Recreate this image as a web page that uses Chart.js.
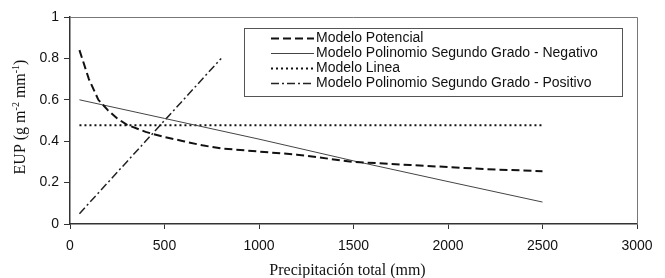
<!DOCTYPE html>
<html><head><meta charset="utf-8">
<script src="https://cdn.jsdelivr.net/npm/chart.js@4/dist/chart.umd.min.js"></script>
<style>html,body{margin:0;padding:0;background:#fff}#c{display:block}</style>
</head><body>
<canvas id="c" width="665" height="278"></canvas>
<script>
const seriesNames = ["Modelo Potencial","Modelo Polinomio Segundo Grado - Negativo","Modelo Linea","Modelo Polinomio Segundo Grado - Positivo"];
const potencialX = [50,100,150,200,250,300,400,500,600,700,800,1000,1200,1500,1800,2000,2200,2500];
const potencialY = [0.84,0.70,0.60,0.55,0.51,0.48,0.445,0.42,0.40,0.38,0.365,0.35,0.335,0.30,0.285,0.275,0.265,0.255];
const negativoX = [50,500,1000,1500,2000,2500];
const negativoY = [0.60,0.51,0.41,0.305,0.205,0.106];
const lineaX = [50,2500];
const lineaY = [0.477,0.477];
const positivoX = [50,300,550,800];
const positivoY = [0.05,0.30,0.55,0.80];
const xTicks = [0,500,1000,1500,2000,2500,3000];
const yTicks = [0,0.2,0.4,0.6,0.8,1];
const xTitle = "Precipitación total (mm)";
const yTitleParts = [["EUP (g m",false],["-2",true],[" mm",false],["-1",true],[")",false]];

const pts = (xs,ys)=>xs.map((x,i)=>({x,y:ys[i]}));
const styles = [
  {borderColor:'#111',borderWidth:2,borderDash:[8,4]},
  {borderColor:'#444',borderWidth:1,borderDash:[]},
  {borderColor:'#111',borderWidth:2,borderDash:[2,3]},
  {borderColor:'#222',borderWidth:1.5,borderDash:[8,3,2,3]}
];
const dataArr = [pts(potencialX,potencialY),pts(negativoX,negativoY),pts(lineaX,lineaY),pts(positivoX,positivoY)];
const serif = '"Liberation Serif","Times New Roman",serif';

const framePlugin = {
  id:'frame',
  afterDraw(chart){
    const {ctx,chartArea:a} = chart;
    ctx.save();
    ctx.strokeStyle='#777';ctx.lineWidth=1;
    ctx.beginPath();
    ctx.moveTo(a.left,a.top+0.5);ctx.lineTo(a.right+0.5,a.top+0.5);ctx.lineTo(a.right+0.5,a.bottom);
    ctx.stroke();
    // x title
    ctx.fillStyle='#111';
    ctx.font='16px '+serif;ctx.textAlign='center';ctx.textBaseline='alphabetic';
    ctx.fillText(xTitle,(a.left+a.right)/2-6,275);
    // y title with superscripts
    ctx.save();
    ctx.translate(25,117);ctx.rotate(-Math.PI/2);
    const big='16px '+serif, small='10px '+serif;
    let total=0;
    yTitleParts.forEach(([t,s])=>{ctx.font=s?small:big;total+=ctx.measureText(t).width;});
    let x=-total/2;ctx.textAlign='left';
    yTitleParts.forEach(([t,s])=>{ctx.font=s?small:big;ctx.fillText(t,x,s?-6:0);x+=ctx.measureText(t).width;});
    ctx.restore();
    // legend
    const bx=244.5,by=28.5,bw=378,bh=68;
    ctx.fillStyle='#fff';ctx.fillRect(bx,by,bw,bh);
    ctx.strokeStyle='#555';ctx.lineWidth=1;ctx.strokeRect(bx,by,bw,bh);
    ctx.font='14px "Liberation Sans", Arial, sans-serif';
    ctx.textBaseline='middle';ctx.textAlign='left';
    const rows=[38,53,68,83];
    chart.data.datasets.forEach((ds,i)=>{
      const y=rows[i]+0.5;
      ctx.strokeStyle=ds.borderColor;ctx.lineWidth=ds.borderWidth;ctx.setLineDash(ds.borderDash);
      ctx.beginPath();ctx.moveTo(271,y);ctx.lineTo(314,y);ctx.stroke();
      ctx.setLineDash([]);
      ctx.fillStyle='#111';ctx.fillText(ds.label,316,rows[i]);
    });
    ctx.restore();
  }
};

new Chart(document.getElementById('c'),{
  type:'line',
  data:{datasets:dataArr.map((d,i)=>Object.assign({label:seriesNames[i],data:d,pointRadius:0,fill:false,tension:0},styles[i]))},
  options:{
    responsive:false,animation:false,
    layout:{padding:{top:17,right:28,left:0,bottom:0}},
    plugins:{legend:{display:false},tooltip:{enabled:false}},
    scales:{
      x:{type:'linear',min:0,max:3000,
        afterBuildTicks(s){s.ticks=xTicks.map(v=>({value:v}));},
        afterFit(s){s.height=54;},
        grid:{drawOnChartArea:false,tickLength:5,color:'#333'},
        border:{color:'#333',width:1.5},
        ticks:{color:'#111',font:{family:'"Liberation Sans", Arial',size:14},padding:9,maxRotation:0,callback:v=>String(v)},
        title:{display:false}
      },
      y:{type:'linear',min:0,max:1,
        afterBuildTicks(s){s.ticks=yTicks.map(v=>({value:v}));},
        afterFit(s){s.width=70;},
        grid:{drawOnChartArea:false,tickLength:6,color:'#333'},
        border:{color:'#333',width:1.5},
        ticks:{color:'#111',font:{family:'"Liberation Sans", Arial',size:14},padding:5,callback:v=>String(v)},
        title:{display:false}
      }
    }
  },
  plugins:[framePlugin]
});
</script>
</body></html>
